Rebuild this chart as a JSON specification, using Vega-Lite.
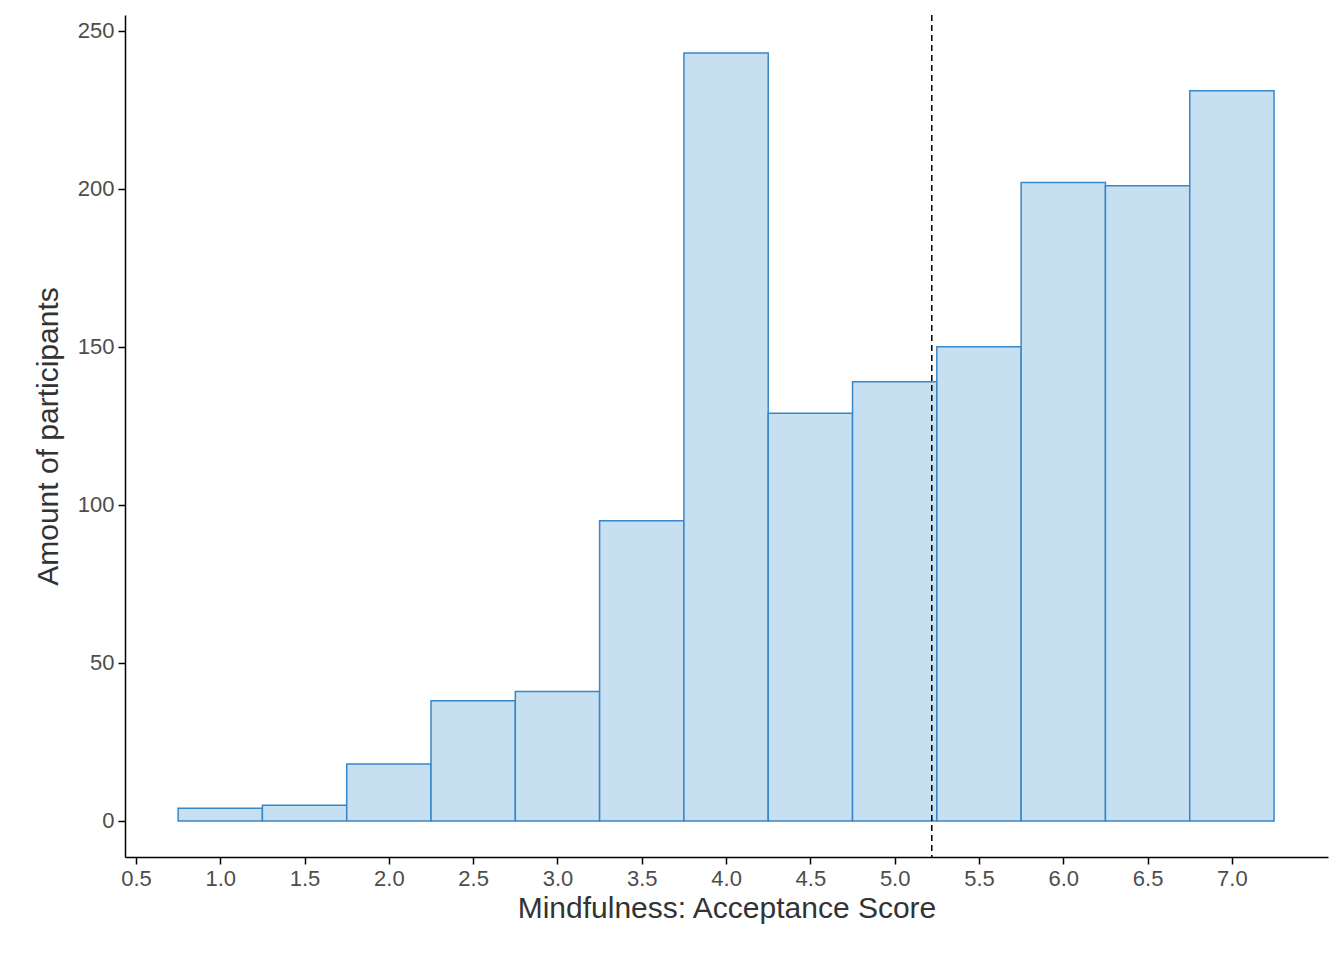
{
"$schema":"https://vega.github.io/schema/vega-lite/v6.json",
"autosize":"none",
"padding":{"left":125,"top":15,"right":16,"bottom":103},
"width":1203,"height":842,
"background":"white",
"config":{"view":{"stroke":null},"axis":{"grid":false,"domainColor":"black","tickColor":"black","labelFont":"Arial","titleFont":"Arial","labelFontSize":22,"labelColor":"#4d4d4d","titleFontSize":30,"titleColor":"#333333","titleFontWeight":"normal","tickSize":7,"domainWidth":1.5,"tickWidth":1.5}},
"layer":[
{"data":{"values":[
{"lo":0.75,"hi":1.25,"n":4},{"lo":1.25,"hi":1.75,"n":5},{"lo":1.75,"hi":2.25,"n":18},{"lo":2.25,"hi":2.75,"n":38},{"lo":2.75,"hi":3.25,"n":41},{"lo":3.25,"hi":3.75,"n":95},{"lo":3.75,"hi":4.25,"n":243},{"lo":4.25,"hi":4.75,"n":129},{"lo":4.75,"hi":5.25,"n":139},{"lo":5.25,"hi":5.75,"n":150},{"lo":5.75,"hi":6.25,"n":202},{"lo":6.25,"hi":6.75,"n":201},{"lo":6.75,"hi":7.25,"n":231}]},
"mark":{"type":"bar","fill":"#c6dff1","stroke":"#3a87c8","strokeWidth":1.5},
"encoding":{
"x":{"field":"lo","type":"quantitative","scale":{"domain":[0.435,7.57],"nice":false,"zero":false},"axis":{"values":[0.5,1,1.5,2,2.5,3,3.5,4,4.5,5,5.5,6,6.5,7],"title":"Mindfulness: Acceptance Score","labelPadding":4,"titlePadding":4}},
"x2":{"field":"hi"},
"y":{"field":"n","type":"quantitative","scale":{"domain":[-11.4,255],"nice":false,"zero":false},"axis":{"values":[0,50,100,150,200,250],"title":"Amount of participants","labelPadding":4,"titlePadding":14}},
"y2":{"datum":0}}},
{"data":{"values":[{"m":5.22}]},
"mark":{"type":"rule","strokeDash":[6,4],"color":"black","strokeWidth":1.5},
"encoding":{"x":{"field":"m","type":"quantitative"}}}
]
}
